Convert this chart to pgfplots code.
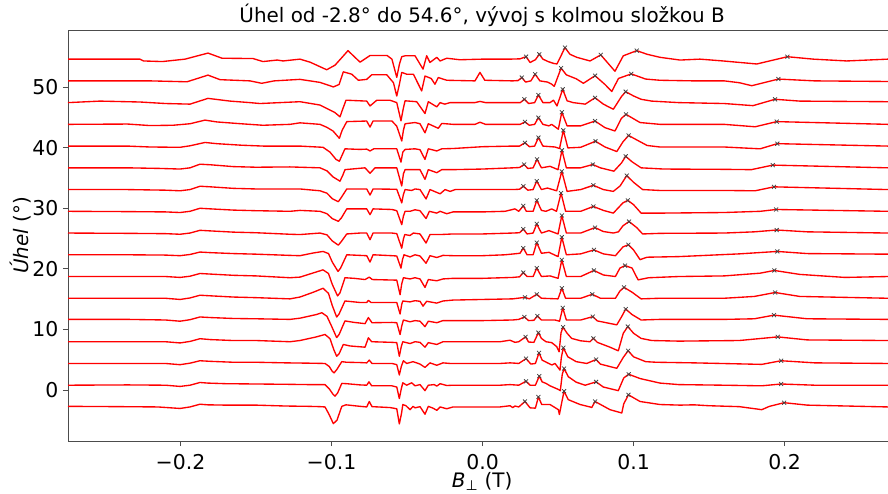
\documentclass[border=0pt]{standalone}
\usepackage{fontspec}
\setmainfont{DejaVu Sans}
\usepackage{pgfplots}
\pgfplotsset{compat=1.18}
\pgfplotsset{
 tr/.style={red, line width=1.35bp, no markers, line join=round},
 mk/.style={only marks, mark=x, mark size=2.8bp, black!75, mark options={line width=0.75bp}},
}
\newcommand{\trace}[3]{%
 \addplot[tr] table[row sep=\\, y expr=\thisrow{y}+#1]{x y\\ #2};
 \addplot[mk] table[row sep=\\, y expr=\thisrow{y}+#1]{x y\\ #3};
}
\begin{document}
\begin{tikzpicture}
\begin{axis}[
 scale only axis, width=820bp, height=411bp,
 xmin=-0.2745, xmax=0.2685, ymin=-8.42, ymax=59.41,
 clip=false,
 axis x line*=bottom, axis y line*=left,
 axis line style={black!70, line width=0.8bp},
 tick style={black!70, line width=0.8bp},
 tick align=outside, major tick length=5bp,
 xtick={-0.2,-0.1,0,0.1,0.2},
 xticklabels={−0.2,−0.1,0.0,0.1,0.2},
 ytick={0,10,20,30,40,50},
 yticklabels={0,10,20,30,40,50},
 ticklabel style={font=\fontsize{20.5}{24}\selectfont},
 xticklabel style={yshift=-5bp},
 yticklabel style={xshift=-1bp},
 xlabel={\textit{B}\textsubscript{⊥} (T)},
 ylabel={\textit{Úhel} (°)},
 label style={font=\fontsize{20}{24}\selectfont},
 xlabel style={at={(axis description cs:0.505,-0.098)}, anchor=center},
 ylabel style={at={(axis description cs:-0.058,0.5)}, anchor=center},
 title={Úhel od -2.8° do 54.6°, vývoj s kolmou složkou B},
 title style={font=\fontsize{20}{24}\selectfont, at={(axis description cs:0.505,1)}, anchor=base, yshift=1.5bp},
]
% k0
\trace{-2.8}{-0.2745 0.1\\ -0.24 0.05\\ -0.215 0\\ -0.2003 -0.25\\ -0.1937 0\\ -0.1871 0.45\\ -0.182 0.35\\ -0.170 0.3\\ -0.150 0.3\\ -0.130 0.15\\ -0.115 0.1\\ -0.1076 0.05\\ -0.1043 0\\ -0.1017 -1.2\\ -0.0988 -2.75\\ -0.0964 -2.2\\ -0.0932 0.1\\ -0.0904 0.35\\ -0.0811 0.1\\ -0.0767 0\\ -0.0750 0.9\\ -0.0732 0.05\\ -0.0613 -0.1\\ -0.0568 -0.3\\ -0.0551 -2.8\\ -0.0536 -1.0\\ -0.0528 0.4\\ -0.0507 0.2\\ -0.0480 -0.45\\ -0.0460 0.1\\ -0.0447 -0.15\\ -0.0414 0.05\\ -0.0381 -1.2\\ -0.0359 0.1\\ -0.0328 -0.2\\ -0.0303 -0.55\\ -0.0281 0\\ -0.0237 -0.3\\ -0.0195 0\\ 0.000 0\\ 0.0116 0\\ 0.0182 0.2\\ 0.0200 -0.1\\ 0.0215 0.15\\ 0.0240 0\\ 0.0281 0.9\\ 0.0315 -0.15\\ 0.0350 -0.2\\ 0.0370 1.65\\ 0.0392 0.4\\ 0.0447 0.4\\ 0.0502 -0.45\\ 0.0509 -1.25\\ 0.0525 0.8\\ 0.0540 2.6\\ 0.0568 1.2\\ 0.0646 0.4\\ 0.0712 0\\ 0.0723 -0.1\\ 0.0745 0.9\\ 0.0844 -0.45\\ 0.0922 -1.0\\ 0.0935 0.5\\ 0.0966 2.0\\ 0.1043 0.9\\ 0.1175 0.4\\ 0.1308 0.3\\ 0.1400 0.35\\ 0.1500 0.2\\ 0.1700 0.05\\ 0.1849 -0.45\\ 0.1900 0.1\\ 0.1997 0.7\\ 0.2150 0.3\\ 0.2685 0\\}{0.0281 0.9\\ 0.0370 1.65\\ 0.0540 2.6\\ 0.0745 0.9\\ 0.0966 2.0\\ 0.1997 0.7\\}
% k1
\trace{0.7875}{-0.2745 0\\ -0.235 0.05\\ -0.210 0\\ -0.2003 -0.2\\ -0.1937 0\\ -0.1871 0.45\\ -0.182 0.35\\ -0.170 0.25\\ -0.150 0.2\\ -0.130 0.15\\ -0.115 0.1\\ -0.1043 0.1\\ -0.1015 -0.6\\ -0.0990 -1.5\\ -0.0977 -1.8\\ -0.0960 -1.3\\ -0.0932 0.3\\ -0.0900 0.25\\ -0.0811 0.05\\ -0.0767 0\\ -0.0752 0.55\\ -0.0734 -0.1\\ -0.0600 -0.1\\ -0.0568 -0.3\\ -0.0551 -2.2\\ -0.0538 -0.6\\ -0.0528 0.4\\ -0.0502 0\\ -0.0469 0.4\\ -0.0447 -0.1\\ -0.0414 0.1\\ -0.0381 -0.9\\ -0.0359 0\\ -0.0320 0.1\\ -0.0303 -0.15\\ -0.0281 0.25\\ -0.0237 -0.05\\ -0.0195 0\\ 0.000 0\\ 0.0116 0\\ 0.0182 0.1\\ 0.0240 0\\ 0.0288 0.65\\ 0.0315 0\\ 0.0350 0\\ 0.0376 1.5\\ 0.0395 0.55\\ 0.0420 0.3\\ 0.0447 -0.1\\ 0.0502 -0.7\\ 0.0515 -0.9\\ 0.0528 1.8\\ 0.0540 2.75\\ 0.0568 1.4\\ 0.0620 0.5\\ 0.0680 0\\ 0.0752 0.55\\ 0.0800 -0.3\\ 0.0899 -0.9\\ 0.0935 1.2\\ 0.0968 1.8\\ 0.1043 1.1\\ 0.1175 0.35\\ 0.130 0.1\\ 0.160 0\\ 0.1849 -0.1\\ 0.1977 0.2\\ 0.220 0\\ 0.2685 0\\}{0.0288 0.65\\ 0.0376 1.5\\ 0.0540 2.75\\ 0.0752 0.55\\ 0.0968 1.8\\ 0.1977 0.2\\}
% k2
\trace{4.375}{-0.2745 0\\ -0.235 0\\ -0.210 0\\ -0.2003 -0.2\\ -0.1937 0.05\\ -0.1871 0.45\\ -0.180 0.35\\ -0.165 0.2\\ -0.150 0.2\\ -0.130 0.1\\ -0.115 0.05\\ -0.1043 0\\ -0.1015 -0.5\\ -0.0995 -1.3\\ -0.0983 -1.55\\ -0.0965 -1.0\\ -0.0932 0.3\\ -0.0900 0.2\\ -0.0811 0.15\\ -0.0767 0.1\\ -0.0750 0.55\\ -0.0732 0\\ -0.0600 0\\ -0.0568 -0.2\\ -0.0551 -1.9\\ -0.0538 -0.5\\ -0.0524 0.45\\ -0.0502 0\\ -0.0460 0.3\\ -0.0414 -0.1\\ -0.0381 -0.65\\ -0.0348 0.1\\ -0.0303 -0.3\\ -0.0262 0.1\\ -0.0215 0\\ 0.000 0\\ 0.0116 0\\ 0.0182 0.1\\ 0.0215 0.05\\ 0.0240 0\\ 0.0288 0.8\\ 0.0320 -0.1\\ 0.0350 0\\ 0.0374 1.75\\ 0.0395 0.55\\ 0.0430 0.1\\ 0.0460 -0.25\\ 0.0480 0\\ 0.0513 -1.1\\ 0.0522 1.0\\ 0.0535 2.6\\ 0.0565 1.1\\ 0.0620 0.3\\ 0.0690 0\\ 0.0752 0.65\\ 0.0780 -0.1\\ 0.0889 -0.8\\ 0.0932 1.0\\ 0.0964 2.1\\ 0.1000 1.1\\ 0.1080 0.3\\ 0.1150 0.2\\ 0.140 0.1\\ 0.1849 -0.15\\ 0.1977 0.45\\ 0.220 0.1\\ 0.2685 0\\}{0.0288 0.8\\ 0.0374 1.75\\ 0.0535 2.6\\ 0.0752 0.65\\ 0.0964 2.1\\ 0.1977 0.45\\}
% k3
\trace{7.9625}{-0.2745 0\\ -0.235 0\\ -0.210 0\\ -0.2003 -0.2\\ -0.1937 0.05\\ -0.1871 0.5\\ -0.180 0.35\\ -0.165 0.2\\ -0.150 0.2\\ -0.1275 0\\ -0.1209 0.2\\ -0.1100 0.8\\ -0.1043 1.2\\ -0.1010 0.5\\ -0.0985 -1.3\\ -0.0966 -2.4\\ -0.0950 -2.0\\ -0.0922 -0.45\\ -0.0877 -0.7\\ -0.0778 -0.9\\ -0.0756 0.65\\ -0.0734 0\\ -0.0600 -0.1\\ -0.0568 -0.15\\ -0.0551 -2.4\\ -0.0538 -0.8\\ -0.0528 0\\ -0.0480 -0.3\\ -0.0447 0\\ -0.0414 -0.1\\ -0.0381 -0.9\\ -0.0359 -0.15\\ -0.0303 -0.45\\ -0.0262 0\\ -0.0215 0\\ 0.000 0\\ 0.0116 0\\ 0.0182 0.25\\ 0.0215 -0.1\\ 0.0240 0\\ 0.0285 0.8\\ 0.0305 -0.05\\ 0.0340 -0.1\\ 0.0370 1.5\\ 0.0390 0.55\\ 0.0420 0\\ 0.0458 -0.15\\ 0.0491 -0.8\\ 0.0507 -1.65\\ 0.0520 1.5\\ 0.0533 2.4\\ 0.0560 1.4\\ 0.0590 0.55\\ 0.0650 0.15\\ 0.0712 0\\ 0.0734 0.55\\ 0.0760 -0.1\\ 0.0844 -0.9\\ 0.0899 -1.5\\ 0.0932 1.4\\ 0.0962 2.5\\ 0.1000 1.4\\ 0.1050 0.55\\ 0.1120 0.2\\ 0.130 0.1\\ 0.170 0.2\\ 0.1955 0.8\\ 0.215 0.3\\ 0.2685 0.2\\}{0.0285 0.8\\ 0.0370 1.5\\ 0.0533 2.4\\ 0.0734 0.55\\ 0.0962 2.5\\ 0.1955 0.8\\}
% k4
\trace{11.55}{-0.2745 0.1\\ -0.235 0.1\\ -0.210 0\\ -0.2003 -0.2\\ -0.1937 0.05\\ -0.1871 0.5\\ -0.180 0.4\\ -0.165 0.25\\ -0.150 0.2\\ -0.1275 0.1\\ -0.1209 0.3\\ -0.1100 0.9\\ -0.1064 1.2\\ -0.1030 0.6\\ -0.1000 -1.0\\ -0.0966 -2.9\\ -0.0950 -2.4\\ -0.0911 -0.15\\ -0.0850 -0.4\\ -0.0778 -0.6\\ -0.0756 0.4\\ -0.0732 -0.45\\ -0.0600 -0.4\\ -0.0568 -0.45\\ -0.0546 -2.4\\ -0.0535 -1.0\\ -0.0524 0\\ -0.0480 -0.3\\ -0.0447 -0.1\\ -0.0414 -0.2\\ -0.0381 -1.1\\ -0.0359 -0.2\\ -0.0303 -0.45\\ -0.0262 -0.1\\ -0.0215 -0.1\\ 0.000 -0.1\\ 0.0200 0\\ 0.0240 0.1\\ 0.0277 0.5\\ 0.0305 -0.1\\ 0.0340 -0.05\\ 0.0363 0.65\\ 0.0390 0\\ 0.0480 0\\ 0.0510 -0.2\\ 0.0531 2.0\\ 0.0555 0\\ 0.0650 0\\ 0.0730 0.55\\ 0.0760 -0.15\\ 0.0889 -0.8\\ 0.0920 0.5\\ 0.0948 1.8\\ 0.0990 0.9\\ 0.1050 0\\ 0.1175 0.1\\ 0.160 0.1\\ 0.180 0.2\\ 0.1930 0.8\\ 0.215 0.2\\ 0.2685 0.1\\}{0.0277 0.5\\ 0.0363 0.65\\ 0.0531 2.0\\ 0.0730 0.55\\ 0.0948 1.8\\ 0.1930 0.8\\}
% k5
\trace{15.1375}{-0.2745 0\\ -0.235 0\\ -0.210 0\\ -0.2003 -0.2\\ -0.1937 0.05\\ -0.1871 0.5\\ -0.180 0.4\\ -0.165 0.2\\ -0.150 0.1\\ -0.1275 -0.1\\ -0.1209 0.2\\ -0.1120 1.0\\ -0.1056 1.65\\ -0.1020 0.8\\ -0.0995 -1.2\\ -0.0966 -3.1\\ -0.0950 -2.6\\ -0.0911 -0.45\\ -0.0811 -0.7\\ -0.0767 -0.7\\ -0.0756 -0.35\\ -0.0738 -0.7\\ -0.0568 -0.7\\ -0.0546 -2.6\\ -0.0535 -1.0\\ -0.0528 -0.45\\ -0.0480 -0.6\\ -0.0447 -0.4\\ -0.0414 -0.5\\ -0.0394 -1.3\\ -0.0370 -0.5\\ -0.0303 -0.8\\ -0.0262 -0.45\\ -0.0195 -0.3\\ 0.000 -0.2\\ 0.0200 -0.1\\ 0.0281 0.15\\ 0.0310 -0.1\\ 0.0359 0.65\\ 0.0390 0\\ 0.0500 -0.1\\ 0.0525 1.65\\ 0.0550 0\\ 0.0650 0\\ 0.0727 0.65\\ 0.0780 0\\ 0.0880 0\\ 0.0910 1.2\\ 0.0937 1.8\\ 0.0990 1.0\\ 0.1050 -0.1\\ 0.1175 0\\ 0.160 0\\ 0.180 0.3\\ 0.1937 0.95\\ 0.210 0.3\\ 0.2685 0\\}{0.0281 0.15\\ 0.0359 0.65\\ 0.0525 1.65\\ 0.0727 0.65\\ 0.0937 1.8\\ 0.1937 0.95\\}
% k6
\trace{18.725}{-0.2745 0\\ -0.235 0\\ -0.210 0\\ -0.2003 -0.15\\ -0.1937 0.05\\ -0.1871 0.5\\ -0.180 0.4\\ -0.165 0.2\\ -0.150 0.1\\ -0.1275 -0.2\\ -0.1209 -0.1\\ -0.1120 0.6\\ -0.1056 1.1\\ -0.1020 0.5\\ -0.0995 -1.3\\ -0.0960 -3.2\\ -0.0944 -2.7\\ -0.0911 -0.2\\ -0.0850 -0.3\\ -0.0778 -0.5\\ -0.0750 -0.1\\ -0.0730 -0.5\\ -0.0568 -0.6\\ -0.0546 -3.0\\ -0.0535 -1.2\\ -0.0524 -0.2\\ -0.0480 -0.4\\ -0.0447 -0.2\\ -0.0414 -0.4\\ -0.0381 -1.8\\ -0.0359 -0.5\\ -0.0303 -0.7\\ -0.0262 -0.4\\ -0.0195 -0.3\\ 0.000 -0.3\\ 0.0200 -0.15\\ 0.0245 -0.05\\ 0.0270 0.65\\ 0.0295 0\\ 0.0335 0\\ 0.0359 1.4\\ 0.0390 0\\ 0.0447 0.1\\ 0.0500 -0.3\\ 0.0525 2.75\\ 0.0555 0\\ 0.0650 0\\ 0.0738 1.0\\ 0.0800 0.25\\ 0.0880 0\\ 0.0910 1.4\\ 0.0944 1.8\\ 0.0990 1.4\\ 0.1030 -0.55\\ 0.1100 -0.2\\ 0.130 0\\ 0.160 0.1\\ 0.1838 0.55\\ 0.1932 1.0\\ 0.2100 0.35\\ 0.2400 -0.15\\ 0.2685 0\\}{0.0270 0.65\\ 0.0359 1.4\\ 0.0525 2.75\\ 0.0738 1.0\\ 0.0944 1.8\\ 0.1932 1.0\\}
% k7
\trace{22.3125}{-0.2745 0\\ -0.235 0\\ -0.210 -0.05\\ -0.2003 -0.15\\ -0.1937 0.05\\ -0.1871 0.45\\ -0.180 0.35\\ -0.165 0.2\\ -0.150 0.1\\ -0.1275 -0.1\\ -0.1209 -0.15\\ -0.1120 0.3\\ -0.1056 0.55\\ -0.1020 0.2\\ -0.0995 -1.2\\ -0.0957 -2.75\\ -0.0940 -2.2\\ -0.0899 0\\ -0.0811 -0.1\\ -0.0767 -0.15\\ -0.0745 -1.2\\ -0.0725 0\\ -0.0600 -0.15\\ -0.0568 -0.2\\ -0.0540 -2.2\\ -0.0530 -0.8\\ -0.0520 0\\ -0.0480 -0.35\\ -0.0447 0\\ -0.0414 -0.2\\ -0.0374 -1.4\\ -0.0348 -0.15\\ -0.0303 -0.45\\ -0.0262 -0.1\\ -0.0195 -0.15\\ 0.000 -0.15\\ 0.0150 0\\ 0.0248 0.25\\ 0.0270 1.1\\ 0.0295 0\\ 0.0335 0\\ 0.0359 2.0\\ 0.0390 0.25\\ 0.0440 0.4\\ 0.0500 -0.3\\ 0.0525 2.9\\ 0.0555 0\\ 0.0650 0.15\\ 0.0738 0.8\\ 0.0800 0.15\\ 0.0880 -0.15\\ 0.0930 1.3\\ 0.0966 1.65\\ 0.1000 0.8\\ 0.1043 -0.8\\ 0.1090 -0.4\\ 0.130 -0.3\\ 0.170 0.15\\ 0.1952 0.55\\ 0.215 0.2\\ 0.2685 0.1\\}{0.0270 1.1\\ 0.0359 2.0\\ 0.0525 2.9\\ 0.0738 0.8\\ 0.0966 1.65\\ 0.1952 0.55\\}
% k8
\trace{25.9}{-0.2745 0\\ -0.235 -0.05\\ -0.210 -0.1\\ -0.2003 -0.2\\ -0.1937 0\\ -0.1871 0.45\\ -0.180 0.35\\ -0.165 0.15\\ -0.150 0.05\\ -0.1275 -0.2\\ -0.1209 -0.25\\ -0.1076 0\\ -0.1030 -0.3\\ -0.0995 -1.3\\ -0.0955 -2.0\\ -0.0935 -1.4\\ -0.0899 -0.15\\ -0.0811 0\\ -0.0767 0\\ -0.0745 -1.1\\ -0.0725 0\\ -0.0600 0\\ -0.0568 -0.1\\ -0.0535 -2.5\\ -0.0524 -1.0\\ -0.0515 -0.25\\ -0.0480 -0.4\\ -0.0458 0\\ -0.0414 -0.15\\ -0.0374 -1.65\\ -0.0348 -0.25\\ -0.0281 -0.25\\ -0.0195 -0.15\\ 0.000 -0.15\\ 0.0200 0\\ 0.0245 0.05\\ 0.0270 0.65\\ 0.0295 -0.15\\ 0.0335 0\\ 0.0359 1.5\\ 0.0390 0\\ 0.0440 0.4\\ 0.0500 -0.15\\ 0.0525 2.9\\ 0.0555 0\\ 0.0650 0\\ 0.0745 0.9\\ 0.0800 0.25\\ 0.0866 0\\ 0.0900 0.2\\ 0.0930 1.2\\ 0.0970 1.9\\ 0.1021 0.9\\ 0.1060 -0.15\\ 0.1175 -0.05\\ 0.160 0\\ 0.1800 0.2\\ 0.1948 0.5\\ 0.215 0.2\\ 0.2685 0\\}{0.0270 0.65\\ 0.0359 1.5\\ 0.0525 2.9\\ 0.0745 0.9\\ 0.0970 1.9\\ 0.1948 0.5\\}
% k9
\trace{29.4875}{-0.2745 0\\ -0.235 -0.05\\ -0.210 -0.1\\ -0.2003 -0.2\\ -0.1937 0\\ -0.1871 0.5\\ -0.180 0.4\\ -0.165 0.2\\ -0.150 0.1\\ -0.1275 0\\ -0.1209 0.15\\ -0.1076 0\\ -0.1030 -0.4\\ -0.0995 -1.2\\ -0.0955 -1.65\\ -0.0935 -1.1\\ -0.0899 0.4\\ -0.0811 0.4\\ -0.0767 0.4\\ -0.0745 -0.55\\ -0.0725 0.4\\ -0.0600 0.3\\ -0.0568 0.1\\ -0.0535 -2.2\\ -0.0524 -0.8\\ -0.0513 0\\ -0.0480 0\\ -0.0447 0.25\\ -0.0414 0.1\\ -0.0374 -1.2\\ -0.0352 0\\ -0.0303 -0.3\\ -0.0281 0\\ -0.0237 -0.4\\ -0.0195 -0.1\\ 0.000 -0.1\\ 0.0150 0\\ 0.0215 0.4\\ 0.0240 0\\ 0.0270 0.9\\ 0.0290 0\\ 0.0335 0\\ 0.0359 1.8\\ 0.0390 0.15\\ 0.0420 0\\ 0.0458 0.4\\ 0.0490 0\\ 0.0520 3.0\\ 0.0550 0\\ 0.0650 0\\ 0.0734 0.8\\ 0.0800 0.15\\ 0.0866 -0.3\\ 0.0930 1.4\\ 0.0962 1.8\\ 0.1000 1.1\\ 0.1050 -0.3\\ 0.1175 -0.3\\ 0.160 -0.2\\ 0.1840 0\\ 0.1944 0.3\\ 0.2685 0\\}{0.0270 0.9\\ 0.0359 1.8\\ 0.0520 3.0\\ 0.0734 0.8\\ 0.0962 1.8\\ 0.1944 0.3\\}
% k10
\trace{33.075}{-0.2745 0\\ -0.235 0\\ -0.210 -0.1\\ -0.2003 -0.2\\ -0.1937 0\\ -0.1871 0.55\\ -0.180 0.45\\ -0.165 0.2\\ -0.150 0.1\\ -0.1275 0.1\\ -0.1209 0.1\\ -0.1076 -0.2\\ -0.1030 -0.6\\ -0.0995 -1.5\\ -0.0955 -2.0\\ -0.0935 -1.3\\ -0.0899 0.1\\ -0.0767 0.1\\ -0.0745 -0.9\\ -0.0725 0.1\\ -0.0568 0.05\\ -0.0535 -2.2\\ -0.0524 -0.8\\ -0.0513 0\\ -0.0469 -0.15\\ -0.0447 0.1\\ -0.0414 0\\ -0.0374 -1.55\\ -0.0348 0\\ -0.0281 -0.7\\ -0.0248 0\\ -0.0215 -0.3\\ -0.0180 0\\ 0.000 0\\ 0.0200 0\\ 0.0245 0.05\\ 0.0270 0.55\\ 0.0300 -0.1\\ 0.0335 0\\ 0.0359 1.4\\ 0.0390 0\\ 0.0430 0.25\\ 0.0491 -0.2\\ 0.0525 3.0\\ 0.0560 -0.3\\ 0.0650 0\\ 0.0734 0.7\\ 0.0800 0\\ 0.0866 -0.3\\ 0.0911 0.6\\ 0.0955 2.3\\ 0.1000 1.2\\ 0.1060 0\\ 0.1175 -0.15\\ 0.160 -0.15\\ 0.1805 -0.2\\ 0.1930 0.45\\ 0.2685 0\\}{0.0270 0.55\\ 0.0359 1.4\\ 0.0525 3.0\\ 0.0734 0.7\\ 0.0955 2.3\\ 0.1930 0.45\\}
% k11
\trace{36.6625}{-0.2745 0\\ -0.235 0\\ -0.2135 -0.1\\ -0.2003 -0.2\\ -0.1937 0\\ -0.1871 0.6\\ -0.180 0.5\\ -0.165 0.2\\ -0.150 0.1\\ -0.1275 0.15\\ -0.1209 0.1\\ -0.1076 0\\ -0.1030 -0.5\\ -0.0990 -1.5\\ -0.0944 -2.2\\ -0.0925 -1.2\\ -0.0911 -0.3\\ -0.0778 0\\ -0.0745 -0.9\\ -0.0712 0\\ -0.0568 0\\ -0.0535 -3.0\\ -0.0524 -1.0\\ -0.0513 -0.3\\ -0.0447 -0.3\\ -0.0414 -0.3\\ -0.0381 -1.9\\ -0.0359 -0.3\\ -0.0303 -0.8\\ -0.0270 -0.3\\ -0.0195 -0.3\\ 0.000 -0.2\\ 0.0200 0\\ 0.0245 0.05\\ 0.0275 0.55\\ 0.0300 -0.1\\ 0.0335 0\\ 0.0361 1.4\\ 0.0390 0\\ 0.0447 0.25\\ 0.0500 -0.3\\ 0.0526 2.9\\ 0.0555 0\\ 0.0650 0\\ 0.0730 0.55\\ 0.0780 0\\ 0.0870 -0.55\\ 0.0920 0.8\\ 0.0948 1.9\\ 0.0990 1.0\\ 0.1050 0\\ 0.120 -0.2\\ 0.160 -0.25\\ 0.1780 -0.3\\ 0.1922 0.45\\ 0.2685 0\\}{0.0275 0.55\\ 0.0361 1.4\\ 0.0526 2.9\\ 0.0730 0.55\\ 0.0948 1.9\\ 0.1922 0.45\\}
% k12
\trace{40.25}{-0.2745 0\\ -0.235 0\\ -0.220 -0.15\\ -0.2003 -0.2\\ -0.1937 0.05\\ -0.1838 0.6\\ -0.176 0.4\\ -0.160 0.15\\ -0.145 0\\ -0.1275 0\\ -0.1209 0\\ -0.1056 -0.2\\ -0.1010 -1.0\\ -0.0970 -2.2\\ -0.0948 -2.5\\ -0.0930 -1.5\\ -0.0911 -0.45\\ -0.0811 -0.55\\ -0.0767 -0.5\\ -0.0745 -0.8\\ -0.0720 -0.45\\ -0.0568 -0.45\\ -0.0540 -2.65\\ -0.0528 -1.0\\ -0.0513 -0.55\\ -0.0447 -0.45\\ -0.0414 -0.6\\ -0.0381 -2.2\\ -0.0359 -0.45\\ -0.0303 -0.8\\ -0.0270 -0.45\\ -0.0195 -0.4\\ 0.000 -0.1\\ 0.0200 0\\ 0.0245 0\\ 0.0281 0.55\\ 0.0310 -0.1\\ 0.0345 0\\ 0.0370 1.4\\ 0.0400 0\\ 0.0480 -0.15\\ 0.0510 -0.4\\ 0.0535 2.6\\ 0.0565 -0.3\\ 0.0650 -0.2\\ 0.0748 0.8\\ 0.0811 -0.15\\ 0.0889 -0.9\\ 0.0930 0.7\\ 0.0967 1.75\\ 0.1030 0.9\\ 0.1090 0.1\\ 0.1175 -0.15\\ 0.160 -0.15\\ 0.1838 -0.45\\ 0.1952 0.4\\ 0.2685 0\\}{0.0281 0.55\\ 0.0370 1.4\\ 0.0535 2.6\\ 0.0748 0.8\\ 0.0967 1.75\\ 0.1952 0.4\\}
% k13
\trace{43.8375}{-0.2745 0\\ -0.235 0.05\\ -0.2202 -0.2\\ -0.205 -0.15\\ -0.1937 0.1\\ -0.1838 0.7\\ -0.176 0.4\\ -0.160 0.1\\ -0.1454 -0.15\\ -0.1275 0\\ -0.1209 0.25\\ -0.1076 0\\ -0.1030 -0.5\\ -0.0990 -1.1\\ -0.0948 -2.3\\ -0.0930 -1.0\\ -0.0899 0.45\\ -0.0767 0.55\\ -0.0745 -0.45\\ -0.0725 0.55\\ -0.0600 0.55\\ -0.0568 -0.3\\ -0.0535 -2.75\\ -0.0524 -1.0\\ -0.0513 0.1\\ -0.0447 0.3\\ -0.0414 0.1\\ -0.0381 -1.4\\ -0.0359 0.1\\ -0.0293 -0.65\\ -0.0270 0.15\\ -0.0195 0\\ -0.0050 0\\ -0.0017 0.35\\ 0.0020 0\\ 0.0200 0\\ 0.0250 0\\ 0.0281 0.4\\ 0.0310 -0.15\\ 0.0345 0\\ 0.0370 1.1\\ 0.0400 0\\ 0.0440 -0.25\\ 0.0458 0\\ 0.0502 -0.8\\ 0.0525 2.0\\ 0.0560 -0.25\\ 0.0650 -0.25\\ 0.0745 0.55\\ 0.0811 -0.55\\ 0.0877 -1.1\\ 0.0920 1.0\\ 0.0950 1.65\\ 0.1043 0.3\\ 0.1175 0\\ 0.160 0\\ 0.1805 -0.4\\ 0.1948 0.45\\ 0.2685 0\\}{0.0281 0.4\\ 0.0370 1.1\\ 0.0525 2.0\\ 0.0745 0.55\\ 0.0950 1.65\\ 0.1948 0.45\\}
% k14
\trace{47.425}{-0.2745 0\\ -0.2533 0.25\\ -0.2268 0.1\\ -0.210 -0.15\\ -0.1937 -0.25\\ -0.1818 0.7\\ -0.1672 0.25\\ -0.1540 0\\ -0.1474 -0.15\\ -0.1341 0\\ -0.1209 0.15\\ -0.1076 -0.4\\ -0.0977 -1.65\\ -0.0944 -2.35\\ -0.0925 -1.0\\ -0.0904 0.4\\ -0.0767 0.25\\ -0.0745 -0.55\\ -0.0700 0.4\\ -0.0613 0.4\\ -0.0568 0\\ -0.0540 -3.0\\ -0.0525 -1.0\\ -0.0513 0.3\\ -0.0436 0.15\\ -0.0381 -1.8\\ -0.0359 0.15\\ -0.0303 -0.7\\ -0.0281 0\\ -0.0250 -0.25\\ -0.0215 0\\ -0.0050 0\\ -0.0017 0.2\\ 0.0020 0\\ 0.0200 0\\ 0.0250 0\\ 0.0277 0.55\\ 0.0305 -0.15\\ 0.0345 0\\ 0.0370 1.25\\ 0.0400 0\\ 0.0447 0\\ 0.0470 0.4\\ 0.0493 -0.55\\ 0.0531 2.2\\ 0.0560 0.3\\ 0.0600 0\\ 0.0680 -0.25\\ 0.0745 0.8\\ 0.0800 -0.25\\ 0.0866 -1.1\\ 0.0920 1.0\\ 0.0948 1.8\\ 0.1000 1.1\\ 0.1050 0.55\\ 0.1120 0.25\\ 0.130 0\\ 0.160 -0.15\\ 0.1791 -0.5\\ 0.1937 0.55\\ 0.210 0.25\\ 0.2685 0.15\\}{0.0277 0.55\\ 0.0370 1.25\\ 0.0531 2.2\\ 0.0745 0.8\\ 0.0948 1.8\\ 0.1937 0.55\\}
% k15
\trace{51.0125}{-0.2745 0\\ -0.2202 0\\ -0.1957 -0.15\\ -0.1818 0.95\\ -0.1738 0.2\\ -0.1540 0\\ -0.1462 -0.4\\ -0.1380 0\\ -0.1209 0.25\\ -0.1076 -0.25\\ -0.1010 -0.8\\ -0.0988 -1.0\\ -0.0950 -0.6\\ -0.0922 1.5\\ -0.0866 1.1\\ -0.0822 0.1\\ -0.0767 0.25\\ -0.0734 1.0\\ -0.0634 1.0\\ -0.0590 -0.3\\ -0.0568 -2.5\\ -0.0550 -0.5\\ -0.0535 1.4\\ -0.0502 1.1\\ -0.0458 1.1\\ -0.0403 -1.65\\ -0.0381 0.8\\ -0.0340 0.4\\ -0.0315 -0.55\\ -0.0293 0.55\\ -0.0237 0.1\\ -0.0050 0\\ -0.0017 1.4\\ 0.0015 0.1\\ 0.0200 0\\ 0.0235 0.05\\ 0.0260 0.55\\ 0.0285 -0.2\\ 0.0320 0\\ 0.0348 1.1\\ 0.0380 0\\ 0.0430 -0.2\\ 0.0458 -0.55\\ 0.0475 -0.9\\ 0.0520 2.1\\ 0.0555 1.0\\ 0.0620 0.35\\ 0.0668 -0.4\\ 0.0745 0.85\\ 0.0811 -0.6\\ 0.0856 -1.75\\ 0.0900 0.4\\ 0.0985 1.15\\ 0.1080 0.3\\ 0.1175 0.1\\ 0.140 0\\ 0.160 0\\ 0.170 -0.3\\ 0.1783 -0.8\\ 0.1959 0.3\\ 0.220 0\\ 0.2685 -0.1\\}{0.0260 0.55\\ 0.0348 1.1\\ 0.0520 2.1\\ 0.0745 0.85\\ 0.0985 1.15\\ 0.1959 0.3\\}
% k16
\trace{54.6}{-0.2745 0\\ -0.2268 0\\ -0.2245 -0.3\\ -0.2120 -0.4\\ -0.1970 0\\ -0.1818 1.0\\ -0.1725 0.15\\ -0.1520 0.1\\ -0.1454 -0.4\\ -0.1360 -0.15\\ -0.1321 -0.3\\ -0.1209 0\\ -0.1142 -0.5\\ -0.1032 -1.75\\ -0.0977 -1.0\\ -0.0930 0.3\\ -0.0891 1.4\\ -0.0811 -0.5\\ -0.0745 0.6\\ -0.0632 0.6\\ -0.0600 0\\ -0.0568 -3.0\\ -0.0550 -0.8\\ -0.0535 0.4\\ -0.0513 0.55\\ -0.0447 0.55\\ -0.0394 -1.65\\ -0.0370 0.55\\ -0.0348 -0.55\\ -0.0303 0.3\\ -0.0281 -0.3\\ -0.0237 0.15\\ -0.0150 -0.1\\ 0.000 0\\ 0.0182 0\\ 0.0248 0.05\\ 0.0288 0.4\\ 0.0315 -0.55\\ 0.0350 -0.1\\ 0.0376 0.8\\ 0.0400 0\\ 0.0434 -0.4\\ 0.0470 -0.7\\ 0.0493 -0.8\\ 0.0546 1.9\\ 0.0579 0.8\\ 0.0624 0.3\\ 0.0712 -0.3\\ 0.0783 0.7\\ 0.0877 -2.0\\ 0.0932 0.55\\ 0.1021 1.4\\ 0.1090 0.8\\ 0.1175 0.3\\ 0.1308 -0.15\\ 0.1440 0\\ 0.1593 -0.3\\ 0.1816 -0.8\\ 0.2019 0.4\\ 0.2190 0\\ 0.2412 -0.3\\ 0.2685 0\\}{0.0288 0.4\\ 0.0376 0.8\\ 0.0546 1.9\\ 0.0783 0.7\\ 0.1021 1.4\\ 0.2019 0.4\\}
\draw[black!70, line width=0.8bp] (rel axis cs:0,1) -- (rel axis cs:1,1);
\end{axis}
\pgfresetboundingbox
\path[use as bounding box] ([shift={(-68bp,-53bp)}]current axis.south west) rectangle ([shift={(0bp,30bp)}]current axis.north east);
\end{tikzpicture}
\end{document}
